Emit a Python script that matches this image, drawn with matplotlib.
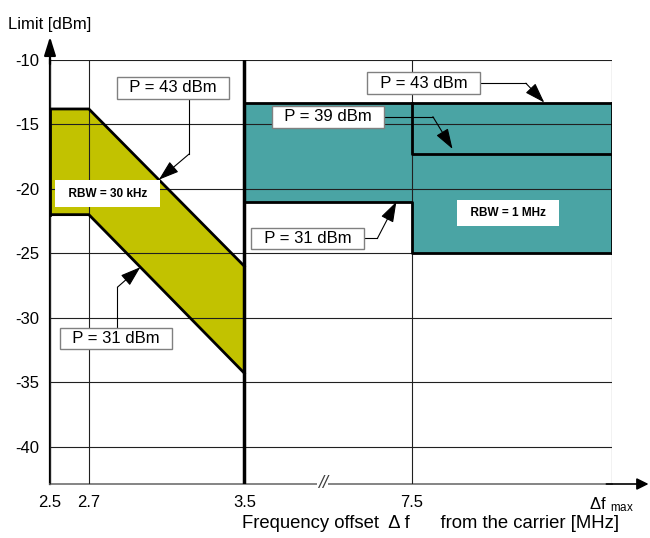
import numpy as np
import matplotlib.pyplot as plt
import matplotlib.transforms as mtransforms

plt.rcParams['font.family'] = ['Liberation Sans', 'DejaVu Sans']
plt.rcParams['axes.unicode_minus'] = False
plt.rcParams['mathtext.fontset'] = 'custom'
plt.rcParams['mathtext.rm'] = 'Liberation Sans'
plt.rcParams['hatch.linewidth'] = 0.4

F_MAX = 12.5  # stands for "delta f max" on the axis

# --- limites du masque ---
# 2.5 - 3.5 MHz, RBW = 30 kHz
f_narrow = [2.5, 2.7, 3.5]
lim_narrow_43 = [-13.8, -13.8, -26.0]
lim_narrow_31 = [-22.0, -22.0, -34.3]

# 3.5 MHz - fmax, RBW = 1 MHz
f_wide = [3.5, 7.5, 7.5, F_MAX]
lim_wide_43 = [-13.3, -13.3, -13.3, -13.3]
lim_wide_39 = [np.nan, -13.3, -17.3, -17.3]
lim_wide_31 = [-21.0, -21.0, -25.0, -25.0]

y_ticks = [-10, -15, -20, -25, -30, -35, -40]
x_ticks = [2.5, 2.7, 3.5, 7.5, F_MAX]
x_ticklabels = ['2.5', '2.7', '3.5', '7.5', r'$\mathregular{\Delta f\ _{max}}$']

# --- axe x coupé : largeurs relatives des segments ---
seg_f = [2.5, 3.5, 7.5, F_MAX]
seg_u = [0.0, 194.0, 361.0, 561.0]
slope_l = (seg_u[1] - seg_u[0]) / (seg_f[1] - seg_f[0])
slope_r = (seg_u[3] - seg_u[2]) / (seg_f[3] - seg_f[2])
ext_f = [seg_f[0] - 100] + seg_f + [seg_f[-1] + 100]
ext_u = [seg_u[0] - 100 * slope_l] + seg_u + [seg_u[-1] + 100 * slope_r]


def fwd(f):
    return np.interp(f, ext_f, ext_u)


def inv(u):
    return np.interp(u, ext_u, ext_f)


fig = plt.figure(figsize=(6.5, 5.38), dpi=100)
ax = fig.add_axes([50 / 650, 54 / 538, 562 / 650, 424 / 538])
ax.set_xscale('function', functions=(fwd, inv))
ax.set_xlim(2.5, F_MAX)
ax.set_ylim(-42.9, -10)

yellow, yellow_h = '#dede00', '#c2c200'
teal, teal_h = '#2f9494', '#4aa4a4'

ax.fill_between(f_narrow, lim_narrow_31, lim_narrow_43, facecolor=yellow,
                edgecolor=yellow_h, hatch='-' * 40, linewidth=0, zorder=1)
ax.fill_between(f_wide, lim_wide_31, lim_wide_43, facecolor=teal,
                edgecolor=teal_h, hatch='-' * 40, linewidth=0, zorder=1)

# grille
ax.set_xticks(x_ticks)
ax.set_xticklabels(x_ticklabels)
ax.set_yticks(y_ticks)
ax.set_yticklabels([str(v) for v in y_ticks])
ax.tick_params(length=0, labelsize=12, pad=8)
ax.set_axisbelow(False)
ax.grid(True, color='#202020', linewidth=0.8)

# contours
lw = 2.0
ax.plot(f_narrow, lim_narrow_43, color='k', lw=lw, zorder=3)
ax.plot(f_narrow, lim_narrow_31, color='k', lw=lw, zorder=3)
ax.plot([f_narrow[0], f_narrow[0]], [lim_narrow_31[0], lim_narrow_43[0]], color='k', lw=lw, zorder=3)
ax.axvline(3.5, color='k', lw=2.5, zorder=3)
ax.plot(f_wide, lim_wide_43, color='k', lw=lw, zorder=3)
ax.plot(f_wide, lim_wide_39, color='k', lw=lw, zorder=3)
ax.plot(f_wide, lim_wide_31, color='k', lw=lw, zorder=3)
ax.plot([F_MAX, F_MAX], [lim_wide_31[-1], lim_wide_43[-1]], color='k', lw=lw, zorder=3)

# axes et flèches
for s in ['top', 'right']:
    ax.spines[s].set_visible(False)
ax.spines['left'].set_linewidth(1.6)
ax.spines['bottom'].set_color('#707070')
ax.spines['bottom'].set_linewidth(1.2)
ax.annotate('', xy=(0, 1.055), xytext=(0, 0.99), xycoords='axes fraction',
            arrowprops=dict(arrowstyle='-|>,head_length=0.8,head_width=0.25',
                            color='k', lw=1.6, shrinkA=0, shrinkB=0, mutation_scale=14))
ax.annotate('', xy=(1.065, 0), xytext=(0.99, 0), xycoords='axes fraction',
            arrowprops=dict(arrowstyle='-|>,head_length=0.5,head_width=0.25',
                            color='#707070', ec='k', fc='k', lw=1.2, shrinkA=0, shrinkB=0,
                            mutation_scale=14))
trans = mtransforms.blended_transform_factory(ax.transData, ax.transAxes)
ax.text(5.37, 0, '//', transform=trans, ha='center', va='center', fontsize=13,
        style='italic', color='#404040', clip_on=False, zorder=6,
        bbox=dict(boxstyle='square,pad=0.05', fc='white', ec='none'))

# --- étiquettes P = ... ---
notes = [
    # texte, position du cadre, coude, abscisse de la pointe, courbe, sortie
    ('P = 43 dBm', (3.134, -12.17), (3.216, -17.29), 3.06, (f_narrow, lim_narrow_43), 'v'),
    ('P = 31 dBm', (2.840, -31.60), (2.847, -27.63), 2.965, (f_narrow, lim_narrow_31), 'v'),
    ('P = 43 dBm', (7.80, -11.80), (10.35, -11.80), 10.81, (f_wide, lim_wide_43), 'h'),
    ('P = 39 dBm', (5.50, -14.40), (8.03, -14.40), 8.52, None, 'h'),
    ('P = 31 dBm', (5.016, -23.85), (6.68, -23.85), 7.135, (f_wide[:2], lim_wide_31[:2]), 'h'),
]
for txt, pos, elbow, tip_f, curve, way in notes:
    if curve is None:
        tip = (tip_f, -16.9)
    else:
        tip = (tip_f, np.interp(tip_f, curve[0], curve[1]))
    start = (elbow[0], pos[1]) if way == 'v' else (pos[0], elbow[1])
    ax.plot([start[0], elbow[0]], [start[1], elbow[1]], color='k', lw=0.8, zorder=4)
    ax.annotate('', xy=tip, xytext=elbow,
                arrowprops=dict(arrowstyle='-|>,head_length=0.9,head_width=0.3',
                                color='k', lw=0.8, shrinkA=0, shrinkB=0, mutation_scale=14),
                zorder=4)
    ax.text(pos[0], pos[1], '  ' + txt + '  ', ha='center', va='center', fontsize=12, zorder=5,
            bbox=dict(boxstyle='square,pad=0.2', fc='white', ec='#808080', lw=1))

ax.text(2.796, -20.36, '  RBW = 30 kHz  ', ha='center', va='center', fontsize=8.5,
        fontweight='bold', zorder=5, bbox=dict(boxstyle='square,pad=0.6', fc='white', ec='none'))
ax.text(9.9, -21.9, '  RBW = 1 MHz  ', ha='center', va='center', fontsize=8.5,
        fontweight='bold', zorder=5, bbox=dict(boxstyle='square,pad=0.6', fc='white', ec='none'))

fig.text(8 / 650, 1 - 24 / 538, 'Limit [dBm]', fontsize=12, ha='left', va='center')
fig.text(431 / 650, 1 - 523 / 538, 'Frequency offset  \u0394 f      from the carrier [MHz]',
         fontsize=13.3, ha='center', va='center')

fig.savefig('out.png', dpi=100)
